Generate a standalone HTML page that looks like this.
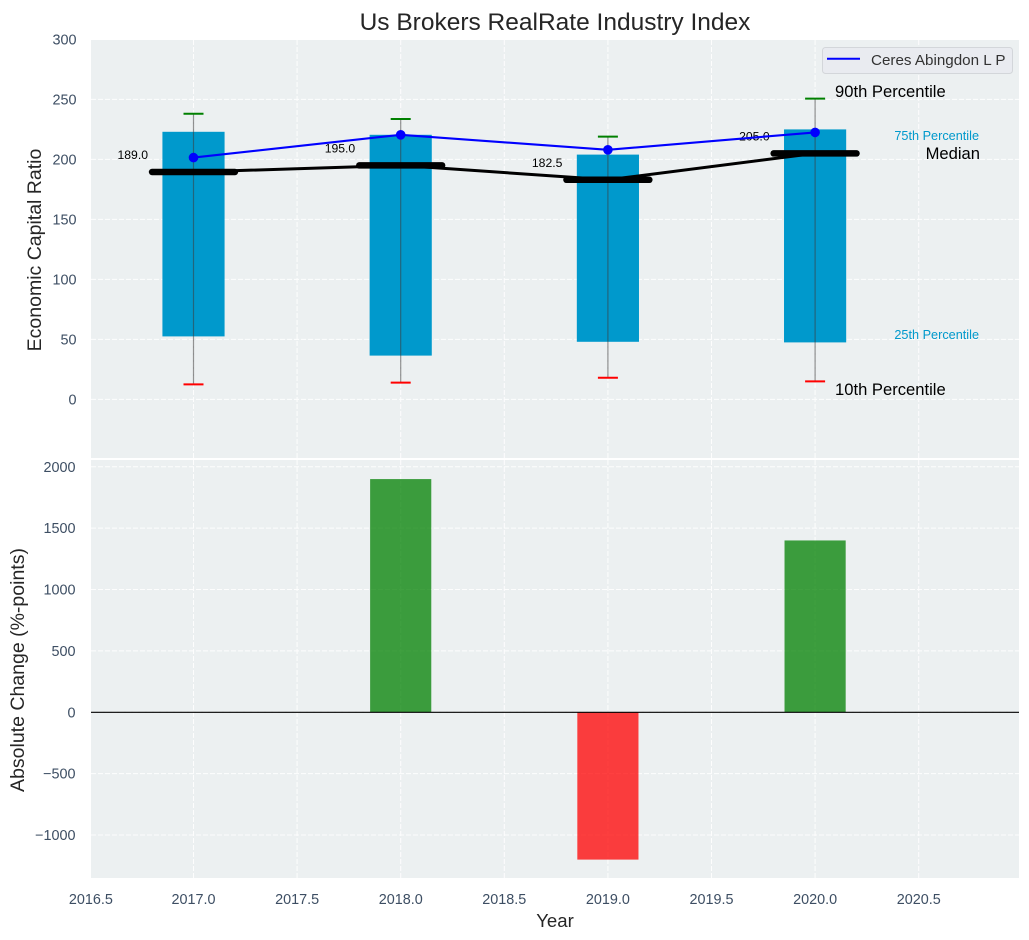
<!DOCTYPE html>
<html lang="en">
<head>
<meta charset="utf-8">
<title>Us Brokers RealRate Industry Index</title>
<style>
html,body{margin:0;padding:0;background:#fff;width:1029px;height:940px;overflow:hidden}
svg{display:block;font-family:"Liberation Sans",Arial,sans-serif}
</style>
</head>
<body>
<svg id="chart" width="1029" height="940" viewBox="0 0 1029 940" xmlns="http://www.w3.org/2000/svg"></svg>
<script>
const years = [2017, 2018, 2019, 2020];
const p90 = [238, 233.7, 219, 250.6];
const p75 = [223, 220.5, 204, 225];
const median = [189.5, 195, 183, 205];
const p25 = [52.5, 36.5, 48, 47.5];
const p10 = [12.5, 14, 18, 15];
const company = [201.5, 220.5, 208, 222.5];
const changeYears = [2018, 2019, 2020];
const changes = [1900, -1200, 1400];
const medianLabels = ['189.0', '195.0', '182.5', '205.0'];
const xTicks = [2016.5, 2017, 2017.5, 2018, 2018.5, 2019, 2019.5, 2020, 2020.5];
const topTicks = [0, 50, 100, 150, 200, 250, 300];
const bottomTicks = [-1000, -500, 0, 500, 1000, 1500, 2000];

const NS = 'http://www.w3.org/2000/svg';
const svg = document.getElementById('chart');
const L = 91, R = 1019, T1 = 40, B1 = 458, T2 = 460, B2 = 878;
const X = v => 193.5 + (v - 2017) * 207.2;
const Y1 = v => 399.4 - v * 1.2;
const Y2 = v => 712.3 - v * 0.12275;
const BAR = 0.3;

function mk(tag, attrs, parent, text) {
  const el = document.createElementNS(NS, tag);
  for (const k in attrs) el.setAttribute(k, attrs[k]);
  if (text !== undefined) el.textContent = text;
  (parent || svg).appendChild(el);
  return el;
}
function label(str, x, y, size, fill, anchor, parent) {
  return mk('text', {x: x, y: y, 'font-size': size, fill: fill, 'text-anchor': anchor || 'start'}, parent, str);
}
const TICK = '#3d4e63', DARK = '#262626';
let el;

// panels
el = mk('rect', {x: L, y: T1, width: R - L, height: B1 - T1, fill: '#ecf0f1'});


el = mk('rect', {x: L, y: T2, width: R - L, height: B2 - T2, fill: '#ecf0f1'});



// grid
const grid = mk('g', {stroke: '#fff', 'stroke-width': 1, 'stroke-dasharray': '5 2', opacity: 0.9});


xTicks.forEach(t => {
  const x = X(t);
  if (x >= L - 2) {
    mk('line', {x1: x, x2: x, y1: T1, y2: B1}, grid);
    mk('line', {x1: x, x2: x, y1: T2, y2: B2}, grid);
  }
});
topTicks.forEach(t => mk('line', {x1: L, x2: R, y1: Y1(t), y2: Y1(t)}, grid));
bottomTicks.forEach(t => mk('line', {x1: L, x2: R, y1: Y2(t), y2: Y2(t)}, grid));

// percentile bars
years.forEach((yr, i) => {
  const b = mk('rect', {x: X(yr - BAR / 2), y: Y1(p75[i]), width: X(yr + BAR / 2) - X(yr - BAR / 2), height: Y1(p25[i]) - Y1(p75[i]), fill: '#0099cc'});
  
  
});

// whiskers
years.forEach((yr, i) => {
  const x = X(yr);
  const w = mk('line', {x1: x, x2: x, y1: Y1(p90[i]), y2: Y1(p10[i]), stroke: '#3c3c3c', 'stroke-width': 1.2, opacity: 0.55});
  
  
  const hi = mk('line', {x1: x - 10, x2: x + 10, y1: Y1(p90[i]), y2: Y1(p90[i]), stroke: '#008000', 'stroke-width': 2});
  
  
  const lo = mk('line', {x1: x - 10, x2: x + 10, y1: Y1(p10[i]), y2: Y1(p10[i]), stroke: '#ff0000', 'stroke-width': 2});
  
  
});

// median line
el = mk('polyline', {points: years.map((yr, i) => X(yr) + ',' + Y1(median[i])).join(' '), fill: 'none', stroke: '#000', 'stroke-width': 3});


years.forEach((yr, i) => {
  const m = mk('line', {x1: X(yr - 0.2), x2: X(yr + 0.2), y1: Y1(median[i]), y2: Y1(median[i]), stroke: '#000', 'stroke-width': 6.5, 'stroke-linecap': 'round'});
  
  
  const t = label(medianLabels[i], X(yr) - 45.5, Y1(median[i]) - 13, 12.2, '#000', 'end');
  
  
});

// company line
el = mk('polyline', {points: years.map((yr, i) => X(yr) + ',' + Y1(company[i])).join(' '), fill: 'none', stroke: '#0000ff', 'stroke-width': 2.1});


years.forEach((yr, i) => {
  const c = mk('circle', {cx: X(yr), cy: Y1(company[i]), r: 4.8, fill: '#0000ff'});
  
  
});

// percentile annotations
el = label('90th Percentile', 835, 97, 16.6, '#000');


el = label('75th Percentile', 979, 140, 12.7, '#0099cc', 'end');


el = label('Median', 980, 159, 16.6, '#000', 'end');


el = label('25th Percentile', 979, 339, 12.7, '#0099cc', 'end');


el = label('10th Percentile', 835, 395, 16.6, '#000');



// legend
const legend = mk('g', {});


mk('rect', {x: 822.5, y: 47.5, width: 190, height: 26, rx: 3, fill: '#e9ebf0', stroke: '#d3d6da', 'stroke-width': 1}, legend);
mk('line', {x1: 827, x2: 860, y1: 58.7, y2: 58.7, stroke: '#0000ff', 'stroke-width': 2}, legend);
label('Ceres Abingdon L P', 871, 65, 15.2, '#333', 'start', legend);

// change bars
changeYears.forEach((yr, i) => {
  const v = changes[i];
  const y0 = Math.min(Y2(0), Y2(v));
  const b = mk('rect', {x: X(yr - BAR / 2) + 0.5, y: y0, width: X(yr + BAR / 2) - X(yr - BAR / 2) - 1, height: Math.abs(Y2(v) - Y2(0)), fill: v >= 0 ? '#008000' : '#ff0000', opacity: 0.75});
  
  
});

// zero line
el = mk('line', {x1: L, x2: R, y1: Y2(0), y2: Y2(0), stroke: '#000', 'stroke-width': 1.2});



// ticks
topTicks.forEach(t => {
  const n = label(String(t), 76.5, Y1(t) + 5, 14.4, TICK, 'end');
  
  
});
bottomTicks.forEach(t => {
  const n = label(String(t).replace('-', '\u2212'), 75.5, Y2(t) + 5, 14.4, TICK, 'end');
  
  
});
xTicks.forEach(t => {
  const n = label(t.toFixed(1), X(t) + (t === 2016.5 ? 1 : 0), 904, 14.4, TICK, 'middle');
  
  
});

// titles
el = label('Us Brokers RealRate Industry Index', 555, 30, 24.5, DARK, 'middle');


el = label('Year', 555, 927, 18.6, DARK, 'middle');


el = label('Economic Capital Ratio', 0, 0, 19.5, DARK, 'middle');
el.setAttribute('transform', 'translate(41,250) rotate(-90)');


el = label('Absolute Change (%-points)', 0, 0, 19.5, DARK, 'middle');
el.setAttribute('transform', 'translate(24,670) rotate(-90)');


</script>
</body>
</html>
